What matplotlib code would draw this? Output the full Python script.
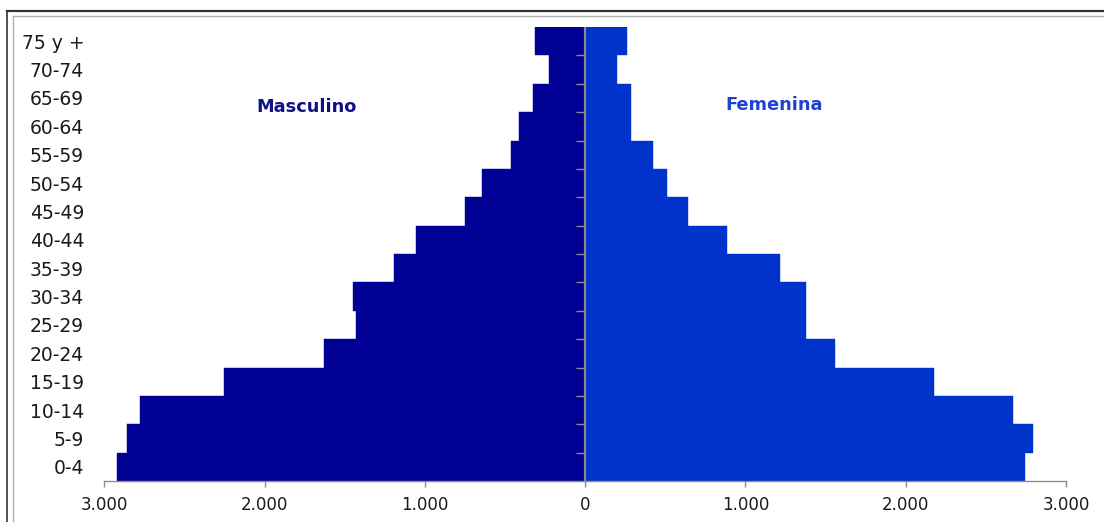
import matplotlib
matplotlib.use("Agg")
import matplotlib.pyplot as plt
from matplotlib.lines import Line2D
from matplotlib.markers import TICKLEFT
from matplotlib.ticker import FuncFormatter

categories = ['0-4', '5-9', '10-14', '15-19', '20-24', '25-29', '30-34', '35-39',
              '40-44', '45-49', '50-54', '55-59', '60-64', '65-69', '70-74', '75 y +']
male = [2920, 2860, 2780, 2255, 1630, 1430, 1450, 1195, 1057, 747, 646, 465, 413, 323, 223, 313]
female = [2746, 2796, 2667, 2174, 1556, 1376, 1376, 1213, 883, 639, 508, 421, 288, 288, 197, 259]
xticks = [-3000, -2000, -1000, 0, 1000, 2000, 3000]

MALE_C = '#000094'
FEM_C = '#0033CC'
AXIS_C = '#8c8c8c'

W, H = 1104, 522
fig = plt.figure(figsize=(W / 100, H / 100), dpi=100)
fig.patch.set_facecolor('white')

left, right, bottom, top = 104.3, 1066.0, 481.0, 27.0
ax = fig.add_axes([left / W, 1 - bottom / H, (right - left) / W, (bottom - top) / H])

y = list(range(len(categories)))
ax.barh(y, [-v for v in male], height=1.0, color=MALE_C, edgecolor=MALE_C, linewidth=0.3)
ax.barh(y, female, height=1.0, color=FEM_C, edgecolor=FEM_C, linewidth=0.3)

ax.set_xlim(-3000, 3000)
ax.set_ylim(-0.5, len(categories) - 0.5)

for s in ['left', 'right', 'top']:
    ax.spines[s].set_visible(False)
ax.spines['bottom'].set_color(AXIS_C)
ax.spines['bottom'].set_linewidth(1.0)

ax.set_xticks(xticks)
ax.xaxis.set_major_formatter(FuncFormatter(lambda v, p: f"{abs(int(v)):,}".replace(',', '.')))
ax.tick_params(axis='x', direction='out', length=4.5, width=1.0, color=AXIS_C,
               labelsize=12, labelcolor='#1a1a1a', pad=6.5)

ax.set_yticks(y)
ax.set_yticklabels(categories)
ax.tick_params(axis='y', length=0, labelsize=13.5, labelcolor='#1a1a1a', pad=14.5)

# central vertical axis with category-boundary ticks
ax.axvline(0, color=AXIS_C, linewidth=1.6, zorder=3)
bounds = [i - 0.5 for i in range(1, len(categories))]
ax.plot([0] * len(bounds), bounds, linestyle='none', marker=TICKLEFT,
        markersize=6.5, markeredgewidth=1.0, color=AXIS_C, zorder=3)

ax.text(-1737, 12.68, 'Masculino', color='#10108a', fontsize=12.8,
        fontweight='bold', ha='center', va='center')
ax.text(1182, 12.75, 'Femenina', color='#1f3fd6', fontsize=12.8,
        fontweight='bold', ha='center', va='center')

# spreadsheet frame lines around the chart
def fl(x0, y0, x1, y1, c, lw):
    fig.add_artist(Line2D([x0 / W, x1 / W], [1 - y0 / H, 1 - y1 / H],
                          color=c, linewidth=lw, transform=fig.transFigure))

fl(6.5, 11, W, 11, '#333333', 1.6)
fl(6.5, 11, 6.5, H, '#333333', 1.2)
fl(13, 16, W, 16, '#b0b0b0', 1.0)
fl(13, 16, 13, H, '#b0b0b0', 1.0)

fig.savefig('out.png', dpi=100, facecolor='white')
